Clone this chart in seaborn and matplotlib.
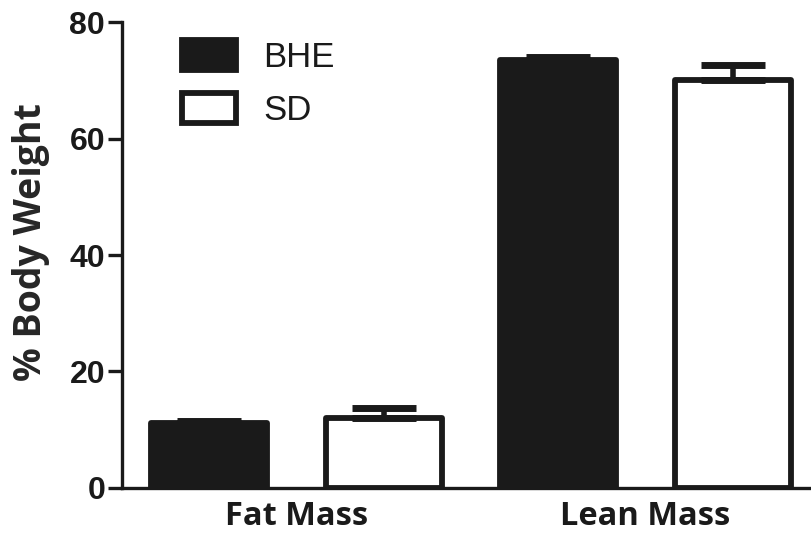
import numpy as np
import pandas as pd
import matplotlib
matplotlib.use("Agg")
import matplotlib.pyplot as plt
import seaborn as sns

categories = ["Fat Mass", "Lean Mass"]
groups = ["BHE", "SD"]
bhe_mean = [11.1, 73.5]
bhe_sem = [0.4, 0.5]
sd_mean = [12.0, 70.0]
sd_sem = [1.8, 2.6]

ink = "#1a1a1a"

df = pd.DataFrame({
	"tissue": categories * 2,
	"diet": ["BHE"] * 2 + ["SD"] * 2,
	"pct": bhe_mean + sd_mean,
	"sem": bhe_sem + sd_sem,
})

sns.set_style("ticks")
plt.rcParams['font.family'] = ['Liberation Sans', 'DejaVu Sans']

fig = plt.figure(figsize=(8.12, 5.38), dpi=100)
ax = fig.add_axes([0.150, 0.093, 0.851, 0.866])

sns.barplot(data=df, x="tissue", y="pct", hue="diet", hue_order=groups,
	palette={"BHE": ink, "SD": "white"}, edgecolor=ink, linewidth=4.2,
	width=1.0, gap=0.335, errorbar=None, ax=ax)

for p in ax.patches:
	p.set_joinstyle("round")

# one-sided error bars on top of each bar
for cont, g in zip(ax.containers, groups):
	sub = df[df["diet"] == g]
	xs = [b.get_x() + b.get_width() / 2 for b in cont]
	ys = sub["pct"].values
	err = sub["sem"].values
	eb = ax.errorbar(xs, ys, yerr=[np.zeros_like(err), err], fmt="none",
		ecolor=ink, elinewidth=4, capsize=23, capthick=5, zorder=1)
	for c in eb[1]:
		c.set_solid_capstyle("round")

ax.set_ylim(0, 80)
ax.set_xlim(-0.5, 1.48)
ax.set_yticks([0, 20, 40, 60, 80])
ax.set_xlabel("")
ax.set_ylabel("% Body Weight", fontsize=27, fontweight="bold", family="Open Sans")
ax.yaxis.set_label_coords(-0.104, 0.528)
sns.despine(ax=ax)
for s in ["left", "bottom"]:
	ax.spines[s].set_linewidth(2.4)
	ax.spines[s].set_color(ink)
ax.tick_params(axis="y", length=10, width=2.4, color=ink, labelsize=23, pad=2)
ax.tick_params(axis="x", length=0, pad=9)
for t in ax.get_yticklabels():
	t.set_fontweight("bold")
	t.set_color(ink)
for t in ax.get_xticklabels():
	t.set_fontweight("bold")
	t.set_family("Open Sans")
	t.set_fontsize(23.5)
	t.set_color(ink)

leg = ax.legend(loc="upper left", bbox_to_anchor=(182 / 812, 1 - 40 / 538),
	bbox_transform=fig.transFigure, frameon=False, fontsize=25,
	handlelength=1.55, handleheight=0.95, handletextpad=0.78, labelspacing=0.55,
	borderpad=0, borderaxespad=0)
for t in leg.get_texts():
	t.set_color(ink)

fig.savefig("out.png", dpi=100)
